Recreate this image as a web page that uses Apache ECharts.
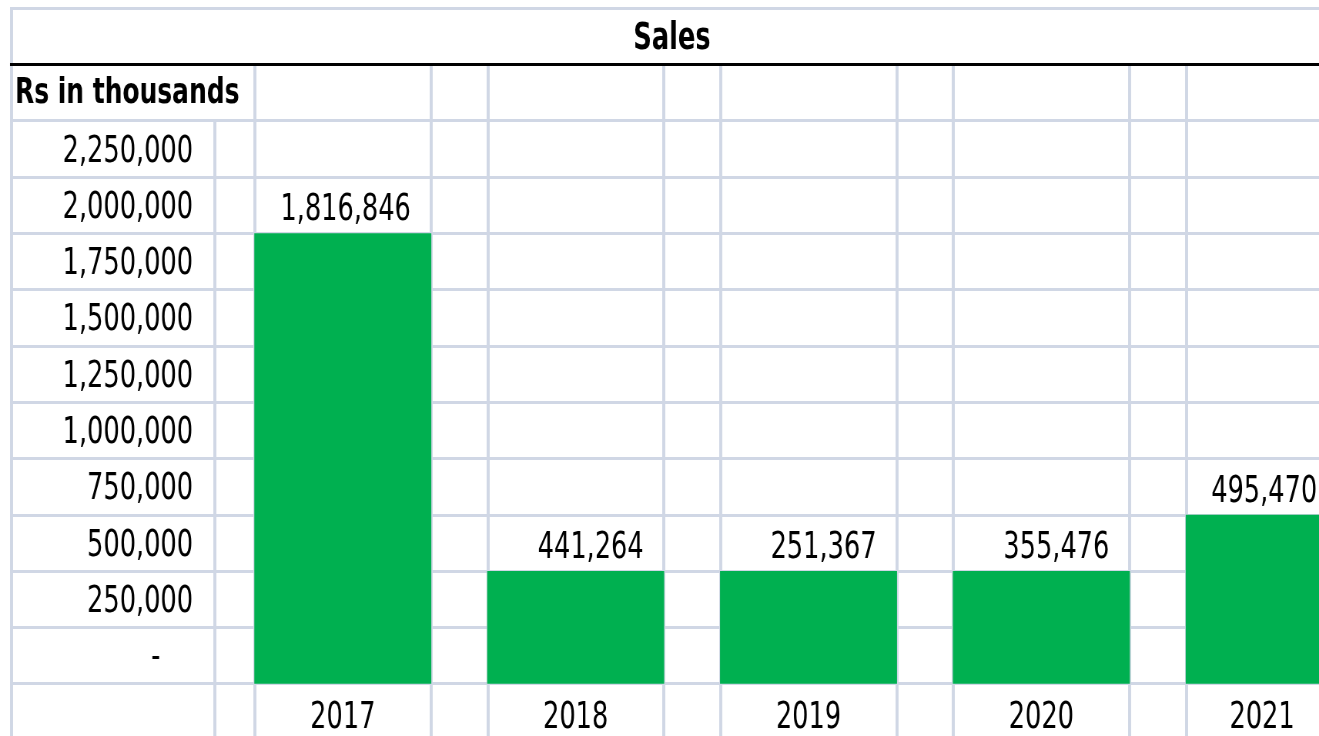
<!DOCTYPE html>
<html>
<head>
<meta charset="utf-8">
<script src="https://cdn.jsdelivr.net/npm/echarts@6/dist/echarts.min.js"></script>
<style>
html,body{margin:0;padding:0;background:#fff;overflow:hidden;width:1319px;height:736px;}
#wrap{width:1319px;height:736px;overflow:hidden;position:relative;}
#chart{position:absolute;left:0;top:0;height:736px;transform-origin:0 0;}
</style>
</head>
<body>
<div id="wrap"><div id="chart"></div></div>
<script>
// ---- data ----
const years = ['2017', '2018', '2019', '2020', '2021'];
const salesValues = [1816846, 441264, 251367, 355476, 495470];          // printed values
const barLevels = [2000000, 500000, 500000, 500000, 750000];            // bar heights as drawn on the grid
const yTickValues = [0, 250000, 500000, 750000, 1000000, 1250000, 1500000, 1750000, 2000000, 2250000];
const yTickLabels = ['-', '250,000', '500,000', '750,000', '1,000,000', '1,250,000', '1,500,000', '1,750,000', '2,000,000', '2,250,000'];
const chartTitle = 'Sales';
const unitLabel = 'Rs in thousands';

// ---- layout (spreadsheet look, condensed horizontally like the source) ----
const S = 0.77;                       // horizontal squeeze of the whole drawing
const px = p => p / S;                // screen px -> chart px (horizontal)
const FONT = "'DejaVu Sans Condensed', 'DejaVu Sans', sans-serif";
const FS = 37;
const GRID_COLOR = '#d0d7e5';
const X_MIN = -1.4293, X_MAX = 4.1925;
const HALF_BAR = 0.378;
const LABEL_COL_EDGE = -0.549;
const Y_MIN = -250000, Y_MAX = 3000000, Y_STEP = 250000;
const HEADER_LINE = 2750000, UNIT_ROW_TOP = 2500000;

const el = document.getElementById('chart');
el.style.width = px(1319) + 'px';
el.style.transform = 'scaleX(' + S + ')';
const chart = echarts.init(el, null, {renderer: 'canvas'});

const vLines = [];
function vline(x, yTop) {
  vLines.push([{coord: [x, yTop]}, {coord: [x, Y_MIN]}]);
}
vline(X_MIN + 0.005, Y_MAX);
vline(LABEL_COL_EDGE, UNIT_ROW_TOP);
years.forEach((y, i) => {
  vline(i - HALF_BAR, HEADER_LINE);
  vline(i + HALF_BAR, HEADER_LINE);
});

const barData = barLevels.map((v, i) => ({
  value: [i, v],
  label: {offset: [px(i === years.length - 1 ? 43 : 68), 0]}
}));

const option = {
  animation: false,
  backgroundColor: '#fff',
  grid: {left: px(10), right: 0, top: 8, bottom: -4, containLabel: false, outerBoundsMode: 'none'},
  xAxis: {
    type: 'value',
    min: X_MIN, max: X_MAX,
    axisLine: {show: false},
    axisTick: {show: false},
    splitLine: {show: false},
    axisLabel: {
      inside: true,
      verticalAlign: 'middle',
      margin: 22,
      customValues: [0, 1, 2, 3, 3.948],
      formatter: v => years[Math.round(v)] || '',
      fontFamily: FONT, fontSize: FS, color: '#000'
    }
  },
  yAxis: {
    type: 'value',
    min: Y_MIN, max: Y_MAX, interval: Y_STEP,
    axisLine: {show: false, onZero: false},
    axisTick: {show: false},
    splitLine: {show: true, lineStyle: {color: GRID_COLOR, width: 3}},
    axisLabel: {
      inside: true,
      align: 'right',
      margin: px(193) - px(10),
      verticalAlign: 'bottom',
      lineHeight: 50,
      fontFamily: FONT, fontSize: FS, color: '#000',
      formatter: v => {
        const idx = yTickValues.indexOf(v);
        if (idx < 0) return '';
        return idx === 0 ? yTickLabels[idx] + '    ' : yTickLabels[idx];
      }
    }
  },
  graphic: [
    {type: 'text', x: px(672), y: 39, z: 100,
     style: {text: chartTitle, align: 'center', verticalAlign: 'middle', font: 'bold ' + FS + 'px ' + FONT, fill: '#000'}},
    {type: 'text', x: px(15), y: 94, z: 100,
     style: {text: unitLabel, align: 'left', verticalAlign: 'middle', font: 'bold 36px ' + FONT, fill: '#000'}}
  ],
  series: [
    {
      type: 'line',
      data: [],
      silent: true,
      markLine: {
        silent: true,
        z: 1,
        symbol: ['none', 'none'],
        label: {show: false},
        lineStyle: {color: GRID_COLOR, width: 3 / S, type: 'solid'},
        data: vLines
      }
    },
    {
      type: 'bar',
      z: 3,
      barWidth: px(177),
      itemStyle: {color: '#00b050'},
      label: {
        show: true,
        position: 'top',
        distance: 4,
        align: 'right',
        fontFamily: FONT, fontSize: FS, color: '#000',
        formatter: p => salesValues[p.dataIndex].toLocaleString('en-US')
      },
      data: barData,
      markLine: {
        silent: true,
        z: 10,
        symbol: ['none', 'none'],
        label: {show: false},
        lineStyle: {color: '#000', width: 3, type: 'solid'},
        data: [{yAxis: HEADER_LINE}]
      }
    }
  ]
};
chart.setOption(option);
</script>
</body>
</html>
